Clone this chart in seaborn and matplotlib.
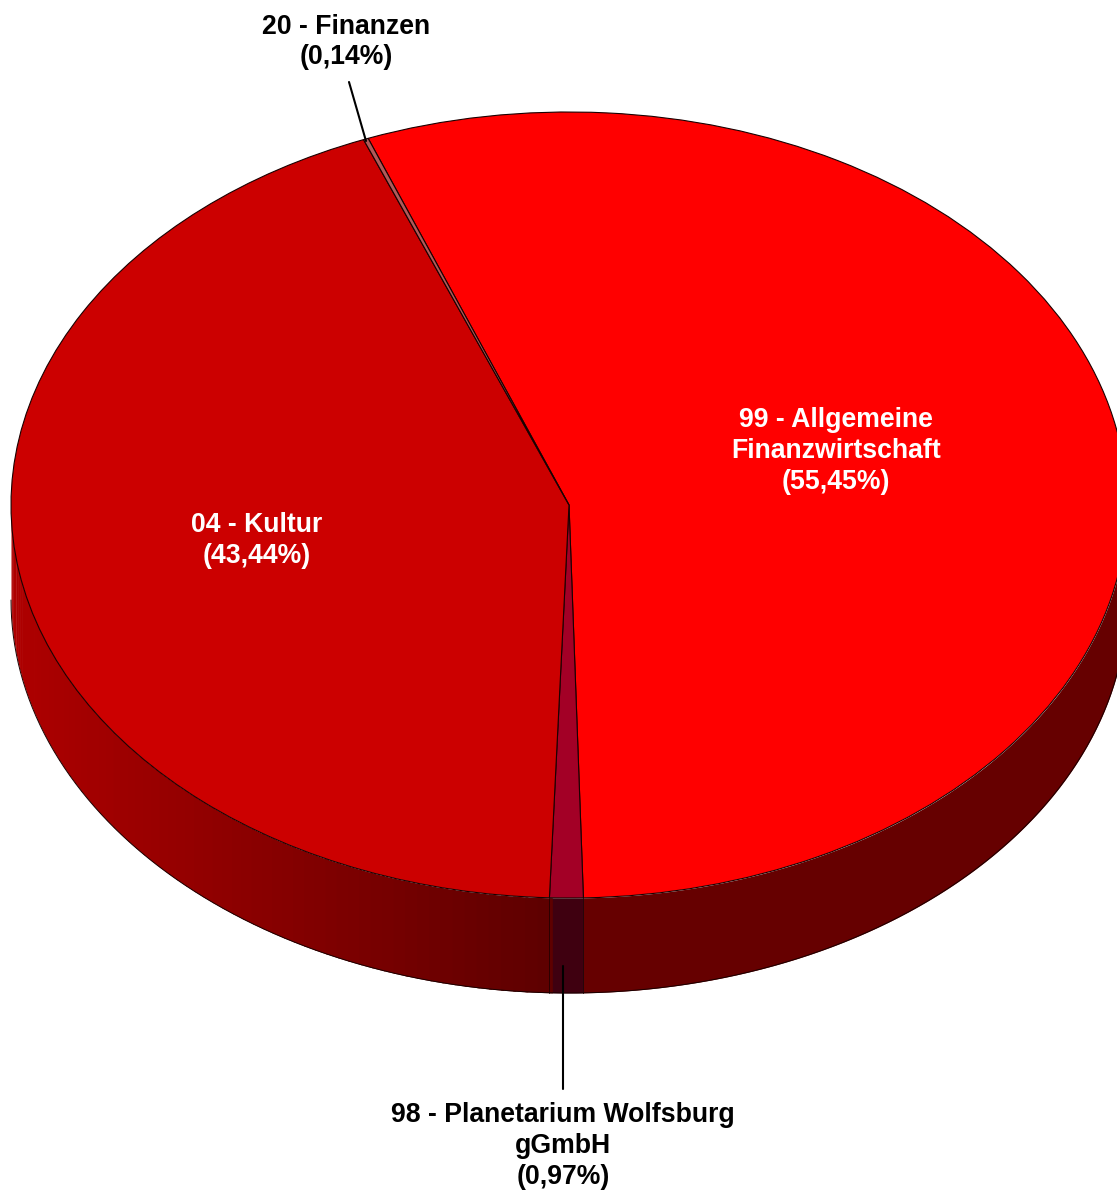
import numpy as np
import matplotlib
matplotlib.use("Agg")
import matplotlib.pyplot as plt
from matplotlib.colors import to_rgb
from matplotlib.lines import Line2D
import seaborn as sns

# Data, clockwise from the start angle
categories = ["99 - Allgemeine\nFinanzwirtschaft", "98 - Planetarium Wolfsburg\ngGmbH", "04 - Kultur", "20 - Finanzen"]
shares = [55.45, 0.97, 43.44, 0.14]
share_labels = ["(55,45%)", "(0,97%)", "(43,44%)", "(0,14%)"]
top_colors = ["#FF0000", "#A30026", "#CC0000", "#B05A5A"]
side_colors = ["#660000", "#3F0010", "#5C0000", "#5C0000"]
side_left_color = "#AE0000"

W, H = 1117, 1191
CX, CY, RX, RY, DEPTH = 569, 505, 558, 393, 95
START = 111.1

sns.set_theme(style="white")
plt.rcParams["font.family"] = ["Liberation Sans", "DejaVu Sans"]

fig = plt.figure(figsize=(W / 100, H / 100), dpi=100, facecolor="white")
ax = fig.add_axes([0, 0, 1, 1])
d = DEPTH / RY
EDGE = "#1a0000"

# Side walls: angles follow the shares
edges = START - np.cumsum([0] + shares) * 3.6
for i in range(len(shares)):
    hi, lo = edges[i], edges[i + 1]
    a = max(lo, -180)
    b = min(hi, 0)
    if b <= a:
        continue
    th = np.radians(np.linspace(a, b, 200))
    if i == 2:  # gradient wall of the left slice
        c0, c1 = np.array(to_rgb(side_left_color)), np.array(to_rgb(side_colors[2]))
        n = 70
        cuts = np.linspace(a, b, n + 1)
        for k in range(n):
            t = np.radians(np.linspace(cuts[k], cuts[k + 1] + 0.3, 8))
            xf = (np.cos(np.radians(cuts[k])) + 1) / (1 + np.cos(np.radians(b)))
            col = c0 + (c1 - c0) * np.clip(xf, 0, 1)
            ax.fill_between(np.cos(t), np.sin(t), np.sin(t) - d, color=col, lw=0)
    else:
        ax.fill_between(np.cos(th), np.sin(th), np.sin(th) - d, color=side_colors[i], lw=0)
    ax.plot(np.cos(th), np.sin(th) - d, color=EDGE, lw=0.7)
    for t0 in (a, b):
        if t0 in (-180, 0):
            continue
        x0 = np.cos(np.radians(t0))
        y0 = np.sin(np.radians(t0))
        ax.plot([x0, x0], [y0, y0 - d], color=EDGE, lw=0.7, alpha=0.5)

# Top face
ax.pie(shares, colors=sns.color_palette(top_colors), startangle=START, counterclock=False,
       radius=1, center=(0, 0), wedgeprops=dict(edgecolor=EDGE, linewidth=0.8), frame=False)
ax.set_aspect("auto")
ax.set_xlim(-CX / RX, (W - CX) / RX)
ax.set_ylim((CY - H) / RY, CY / RY)
ax.axis("off")


def px(x, y):
    return x / W, 1 - y / H


text_style = dict(fontsize=19.2, fontweight="bold", ha="center", va="center", linespacing=1.25)
for (i, x, y, col) in [(0, 836, 451, "white"), (2, 257, 541, "white"),
                       (3, 346, 42, "black"), (1, 563, 1146, "black")]:
    fx, fy = px(x, y)
    fig.text(fx, fy, categories[i] + "\n" + share_labels[i], color=col, **text_style)

for (a, b) in [((563, 966), (563, 1089)), ((349, 82), (366, 141))]:
    p, q = px(*a), px(*b)
    fig.add_artist(Line2D([p[0], q[0]], [p[1], q[1]], color="black", lw=1.5))

fig.savefig("out.png", dpi=100, facecolor="white")
